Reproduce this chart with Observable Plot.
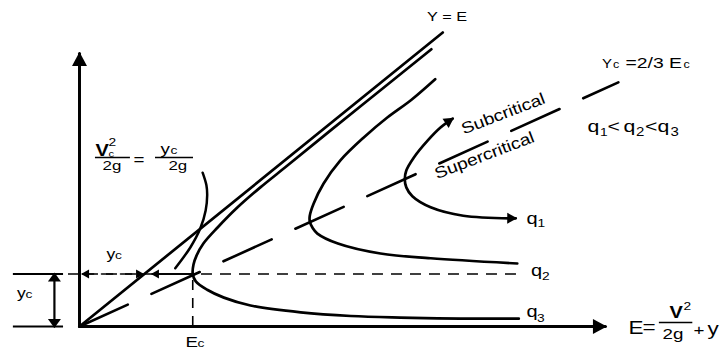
<!DOCTYPE html>
<html><head><meta charset="utf-8">
<script src="https://cdn.jsdelivr.net/npm/d3@7"></script>
<script src="https://cdn.jsdelivr.net/npm/@observablehq/plot@0.6"></script>
<style>
html,body{margin:0;padding:0;background:#fff;}
#chart svg{display:block;}
</style></head><body><div id="chart"></div>
<script>
// ---- Data (E = specific energy, horizontal; y = depth, vertical).
// Units: the q3 curve has Ec = 1.5 and yc = 1.
const yc = 1.0;
const Ec = 1.49;

// Y = E line
const lineYE_E = [0, 4.78];
const lineYE_y = [0, 5.60];
// Yc = 2/3 Ec line (dashed)
const lineCrit_E = [0, 7.09];
const lineCrit_y = [0, 4.65];

// specific-energy curves (upper branch -> vertex -> lower branch)
const q3_E = [4.63, 3.96, 3.30, 2.74, 2.38, 2.08, 1.82, 1.63, 1.54, 1.50, 1.49, 1.53, 1.68, 1.90, 2.25, 2.91, 3.57, 4.22, 5.01, 5.78];
const q3_y = [5.28, 4.50, 3.73, 3.07, 2.65, 2.27, 1.89, 1.58, 1.35, 1.18, 1.00, 0.86, 0.70, 0.55, 0.40, 0.27, 0.20, 0.17, 0.15, 0.15];
const q2_E = [4.68, 4.36, 4.05, 3.74, 3.43, 3.21, 3.08, 3.03, 3.03, 3.07, 3.13, 3.40, 3.96, 4.62, 5.76];
const q2_y = [4.71, 4.31, 3.98, 3.60, 3.16, 2.72, 2.34, 2.11, 2.00, 1.87, 1.77, 1.58, 1.39, 1.30, 1.20];
const q1_E = [4.91, 4.75, 4.58, 4.40, 4.30, 4.28, 4.30, 4.38, 4.62, 5.05, 5.74];
const q1_y = [3.96, 3.79, 3.54, 3.22, 2.97, 2.80, 2.65, 2.48, 2.27, 2.11, 2.06];

// bracket stroke from the formula Vc²/2g = yc/2g
const bracket_E = [1.62, 1.67, 1.68, 1.66, 1.59, 1.46, 1.26];
const bracket_y = [2.93, 2.69, 2.50, 2.21, 1.87, 1.51, 1.11];

// axes (arrow tips)
const axisX_E = [0, 6.92];
const axisX_y = [0, 0];
const axisY_E = [0, 0];
const axisY_y = [0, 5.20];

// yc dimension (left) and yc horizontal arrows
const dimLines_y = [yc, 0];
const dimLines_E1 = -0.87;
const dimLines_E2 = -0.21;
const dimArrow_E = -0.33;
const ycArrowA_E = [0.04, 0.83];
const ycArrowB_E = [Ec, 0.96];
const dashH_E = [-0.145, 5.80];

// fraction bars of the formulas
const bar_E1 = [0.21, 1.00, 7.63];
const bar_E2 = [0.67, 1.50, 8.07];
const bar_y  = [3.22, 3.22, 0.076];

// text labels
const labelText = ["Y = E",
  "Y", "c", "=2/3 E", "c",
  "q", "1", "<", "q", "2", "<", "q", "3",
  "Subcritical", "Supercritical",
  "V", "2", "c", "2g", "=", "y", "c", "2g",
  "y", "c", "y", "c", "E", "c",
  "q", "1", "q", "2", "q", "3",
  "E", "=", "V", "2", "2g", "+", "y"];
const labelE = [4.836,
  6.875, 7.02, 7.184, 7.947,
  6.684, 6.849, 6.947, 7.158, 7.322, 7.441, 7.605, 7.776,
  5.575, 5.329,
  0.211, 0.382, 0.382, 0.303, 0.711, 1.066, 1.197, 1.171,
  0.355, 0.467, -0.822, -0.711, 1.395, 1.553,
  5.882, 6.026, 5.941, 6.086, 5.882, 6.02,
  7.224, 7.408, 7.763, 7.947, 7.671, 8.079, 8.263];
const labelY = [5.815,
  4.933, 4.933, 4.933, 4.933,
  3.705, 3.638, 3.705, 3.705, 3.638, 3.705, 3.705, 3.638,
  4.05, 3.257,
  3.257, 3.429, 3.229, 2.99, 3.067, 3.295, 3.295, 2.99,
  1.295, 1.295, 0.552, 0.552, -0.39, -0.39,
  1.956, 1.886, 0.971, 0.886, 0.177, 0.086,
  -0.139, -0.133, 0.171, 0.305, -0.229, -0.171, -0.171];

// ---- styles (kept apart from the values)
const labelSize = [13,
  12, 10, 15.5, 10,
  17, 11, 17, 17, 12, 17, 17, 12,
  16, 16,
  16, 11, 9, 13.5, 15, 15, 11, 13.5,
  14, 11, 14, 11, 15, 11,
  16, 11, 16, 11, 16, 11,
  18, 18, 16, 11, 15, 15, 18];
const labelKind = ["mid",
  "s", "s", "s", "s",
  "s", "s", "s", "s", "s", "s", "s", "s",
  "rot", "rot",
  "bold", "s", "s", "s", "s", "s", "s", "s",
  "s", "s", "s", "s", "s", "s",
  "s", "s", "s", "s", "s", "s",
  "s", "s", "bold", "s", "s", "s", "s"];

const font = "Liberation Sans, Arial, Helvetica, sans-serif";
const rows = (E, Y, name) => E.map((e, i) => ({E: e, y: Y[i], name}));
const labels = labelText.map((t, i) => ({t, E: labelE[i], y: labelY[i], size: labelSize[i], kind: labelKind[i]}));

const curves = [...rows(q3_E, q3_y, "q3"), ...rows(q2_E, q2_y, "q2")];
const axes = [...rows(axisX_E, axisX_y, "x"), ...rows(axisY_E, axisY_y, "y")];
const bars = bar_y.map((y, i) => ({y, E1: bar_E1[i], E2: bar_E2[i]}));

const chart = Plot.plot({
  width: 728, height: 350,
  marginTop: 0, marginRight: 0, marginBottom: 0, marginLeft: 0,
  x: {domain: [-79 / 76, 649 / 76], axis: null},
  y: {domain: [-24 / 52.5, 326 / 52.5], axis: null},
  style: {fontFamily: font, background: "white"},
  marks: [
    // dashed reference lines
    Plot.ruleY([{y: yc, E1: dashH_E[0], E2: dashH_E[1]}], {y: "y", x1: "E1", x2: "E2", stroke: "black", strokeWidth: 1.6, strokeDasharray: "11,8"}),
    Plot.ruleX([{E: Ec, y1: 0, y2: yc}], {x: "E", y1: "y1", y2: "y2", stroke: "black", strokeWidth: 1.6, strokeDasharray: "10,8"}),
    Plot.line(rows(lineCrit_E, lineCrit_y, "crit"), {x: "E", y: "y", stroke: "black", strokeWidth: 2.6, strokeDasharray: "53,26"}),
    // Y = E
    Plot.line(rows(lineYE_E, lineYE_y, "ye"), {x: "E", y: "y", stroke: "black", strokeWidth: 2.7}),
    // energy curves
    Plot.line(curves, {x: "E", y: "y", z: "name", curve: "catmull-rom", stroke: "black", strokeWidth: 2.7}),
    Plot.line(rows(q1_E, q1_y, "q1"), {x: "E", y: "y", curve: "catmull-rom", stroke: "#010101", strokeWidth: 2.7}),
    Plot.line(rows(bracket_E, bracket_y, "br"), {x: "E", y: "y", curve: "catmull-rom", stroke: "black", strokeWidth: 2.5}),
    // axes
    Plot.line(axes, {x: "E", y: "y", z: "name", stroke: "#020202", strokeWidth: 3}),
    // yc dimension
    Plot.ruleY(dimLines_y.map(y => ({y})), {y: "y", x1: () => dimLines_E1, x2: () => dimLines_E2, stroke: "black", strokeWidth: 2.2}),
    Plot.line([{E: dimArrow_E, y: yc}, {E: dimArrow_E, y: 0}], {x: "E", y: "y", stroke: "#030303", strokeWidth: 2.2}),
    Plot.line(ycArrowA_E.map(E => ({E, y: yc})), {x: "E", y: "y", stroke: "#040404", strokeWidth: 1.6, strokeDasharray: "11,8"}),
    Plot.line(ycArrowB_E.map(E => ({E, y: yc})), {x: "E", y: "y", stroke: "#050505", strokeWidth: 1.8}),
    // fraction bars
    Plot.ruleY(bars, {y: "y", x1: "E1", x2: "E2", stroke: "black", strokeWidth: 1.6}),
    // labels
    Plot.text(labels.filter(d => d.kind === "s"), {x: "E", y: "y", text: "t", fontSize: d => d.size, textAnchor: "start", lineAnchor: "bottom", fill: "black", fontFamily: font}),
    Plot.text(labels.filter(d => d.kind === "bold"), {x: "E", y: "y", text: "t", fontSize: d => d.size, fontWeight: "bold", textAnchor: "start", lineAnchor: "bottom", fill: "black", fontFamily: font}),
    Plot.text(labels.filter(d => d.kind === "mid"), {x: "E", y: "y", text: "t", fontSize: d => d.size, textAnchor: "middle", lineAnchor: "bottom", fill: "black", fontFamily: font}),
    Plot.text(labels.filter(d => d.kind === "rot"), {x: "E", y: "y", text: "t", fontSize: d => d.size, rotate: -21, textAnchor: "middle", lineAnchor: "middle", fill: "black", fontFamily: font})
  ]
});

document.getElementById("chart").appendChild(chart);

// ---- arrowheads (filled triangles) attached to the arrow paths
const svg = d3.select(chart);
const defs = svg.insert("defs", ":first-child");
function marker(id, len, half) {
  defs.append("marker").attr("id", id)
    .attr("markerUnits", "userSpaceOnUse")
    .attr("markerWidth", len + 2).attr("markerHeight", 2 * half + 2)
    .attr("refX", len - 1.5).attr("refY", 0)
    .attr("orient", "auto-start-reverse")
    .style("overflow", "visible")
    .append("path").attr("d", `M0,${-half}L${len},0L0,${half}Z`).attr("fill", "black").attr("stroke", "none");
}
marker("big", 14, 7.5);
marker("med", 10, 5.5);
marker("dimv", 9, 6.5);
marker("small", 8, 4.5);
function arrowize(color, start, end) {
  svg.selectAll(`g[stroke="${color}"] path, path[stroke="${color}"]`).each(function () {
    if (start) this.setAttribute("marker-start", `url(#${start})`);
    if (end) this.setAttribute("marker-end", `url(#${end})`);
  });
}
arrowize("#010101", "med", "med");
arrowize("#020202", null, "big");
arrowize("#030303", "dimv", "dimv");
arrowize("#040404", "small", "small");
arrowize("#050505", null, "small");

// the reference's lettering is horizontally stretched
svg.selectAll("text").each(function () {
  const t = this.getAttribute("transform") || "";
  this.setAttribute("transform", t + (t.includes("rotate") ? " scale(1.2,1)" : " scale(1.25,1)"));
});
</script></body></html>
